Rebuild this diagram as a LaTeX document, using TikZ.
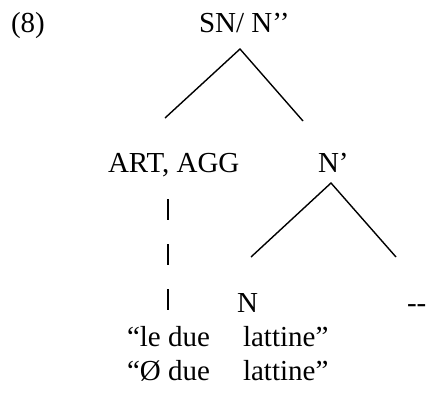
\documentclass[tikz,border=0pt]{standalone}
\usepackage{fontspec}
\setmainfont{Liberation Serif}
\begin{document}
\begin{tikzpicture}[x=1pt,y=-1pt,
  txt/.style={inner sep=0pt, outer sep=0pt, anchor=base west, font=\fontsize{29}{34}\selectfont},
  branch/.style={line width=1.4pt},
  barline/.style={line width=1.8pt, dash pattern=on 20.5pt off 24.5pt}]
\useasboundingbox (0,0) rectangle (426,405);
\node[txt] (ex) at (11,32) {(8)};
\node[txt] (sn) at (199,32) {SN/ N’’};
\node[txt] (art) at (108,172) {ART, AGG};
\node[txt] (np) at (318,172) {N’};
\node[txt] (n) at (237,312) {N};
\node[txt] (dash) at (407,312) {-{}-};
\node[txt] (le) at (127,346) {“le due};
\node[txt] (lat1) at (243,346) {lattine”};
\node[txt] (zero) at (127,380) {“Ø due};
\node[txt] (lat2) at (243,380) {lattine”};
\coordinate (snapex) at (240,49);
\coordinate (snl) at (165,118);
\coordinate (snr) at (303,121);
\coordinate (npapex) at (331,183);
\coordinate (npl) at (251,257);
\coordinate (npr) at (396,257);
\coordinate (bartop) at (168,199);
\coordinate (barbot) at (168,311);
\draw[branch] (snl) -- (snapex) -- (snr);
\draw[branch] (npl) -- (npapex) -- (npr);
\draw[barline] (bartop) -- (barbot);
\end{tikzpicture}
\end{document}
